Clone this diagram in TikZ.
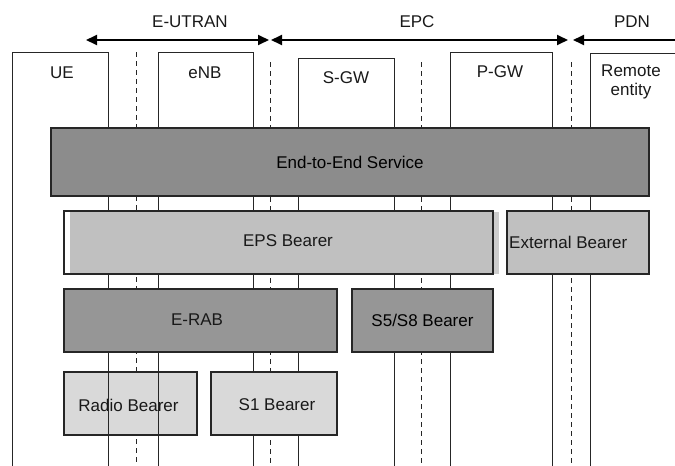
\documentclass[tikz,border=0pt]{standalone}
\usepackage{fontspec}
\setmainfont{Liberation Sans}
\usetikzlibrary{arrows.meta}
\definecolor{darkfill}{RGB}{140,140,140}
\definecolor{midfill}{RGB}{150,150,150}
\definecolor{lightfill}{RGB}{192,192,192}
\definecolor{palefill}{RGB}{217,217,217}
\definecolor{shadowfill}{RGB}{205,205,205}
\definecolor{edge}{RGB}{38,38,38}
\begin{document}
\begin{tikzpicture}[x=1pt,y=-1pt,
  col/.style={draw=edge, line width=1pt},
  sep/.style={draw=edge, line width=1pt, dash pattern=on 5pt off 4pt},
  bbox/.style={draw=edge, line width=1.3pt, inner sep=0pt, font=\fontsize{17}{20}\selectfont},
  lbl/.style={font=\fontsize{17}{20}\selectfont, inner sep=0pt, text=black!90},
  dom/.style={line width=1.8pt},
  tip/.tip={Triangle[length=11pt,width=10pt]}]
\useasboundingbox (0,0) rectangle (675,466);

% separator lines
\draw[sep] (136,52) -- (136,466);
\draw[sep] (270,62) -- (270,466);
\draw[sep] (421,62) -- (421,466);
\draw[sep] (571,62) -- (571,466);

% column boxes (open at the bottom)
\draw[col] (12,466) -- (12,52) -- (108,52) -- (108,466);
\draw[col] (158,466) -- (158,52) -- (253,52) -- (253,466);
\draw[col] (298,466) -- (298,58) -- (394,58) -- (394,466);
\draw[col] (450,466) -- (450,52) -- (552,52) -- (552,466);
\draw[col] (590,466) -- (590,53) -- (676,53);

% column labels
\node[lbl] (ue) at (62,73) {UE};
\node[lbl] (enb) at (205,73) {eNB};
\node[lbl] (sgw) at (346,78) {S-GW};
\node[lbl] (pgw) at (500,72) {P-GW};
\node[lbl, align=center] (remote) at (631,82) {Remote\\[-1pt]entity};

% domain arrows
\coordinate (eul) at (86,40);
\coordinate (eur) at (269,40);
\coordinate (epcl) at (271,40);
\coordinate (epcr) at (568,40);
\coordinate (pdnl) at (573,40);
\coordinate (pdnr) at (680,40);
\draw[dom, tip-tip] (eul) -- (eur);
\draw[dom, tip-tip] (epcl) -- (epcr);
\draw[dom, tip-] (pdnl) -- (pdnr);
\node[lbl] (eutran) at (190,22) {E-UTRAN};
\node[lbl] (epc) at (417,22) {EPC};
\node[lbl] (pdn) at (632,22) {PDN};

% bearer boxes
\node[bbox, fill=darkfill, minimum width=598pt, minimum height=68pt] (e2e) at (350,162) {End-to-End Service};

\fill[shadowfill] (493,212) rectangle (499,274);
\node[bbox, fill=lightfill, minimum width=429pt, minimum height=63pt] (eps) at (278.5,242.5) {};
\fill[white] (65.3,212.3) rectangle (70,273.2);
\node[lbl] (epst) at (288,241) {EPS Bearer};

\node[bbox, fill=lightfill, minimum width=142pt, minimum height=63pt] (ext) at (578,242.5) {};
\node[lbl, anchor=west] (extt) at (509,242) {External Bearer};

\node[bbox, fill=midfill, minimum width=273pt, minimum height=63pt] (erab) at (200.5,320.5) {};
\node[lbl] (erabt) at (197,320) {E-RAB};
\node[bbox, fill=midfill, minimum width=141pt, minimum height=63pt] (s5) at (422.5,320.5) {S5/S8 Bearer};

\node[bbox, fill=palefill, minimum width=133pt, minimum height=63pt] (radio) at (130.5,403.5) {};
\node[lbl] (radiot) at (128.5,405) {Radio Bearer};
\node[bbox, fill=palefill, minimum width=126pt, minimum height=63pt] (s1) at (274,403.5) {};
\node[lbl] (s1t) at (277,405) {S1 Bearer};

% column edges visible through the radio bearer box
\draw[col] (radio.north -| 108,0) -- (radio.south -| 108,0);
\draw[col] (radio.north -| 158,0) -- (radio.south -| 158,0);
\end{tikzpicture}
\end{document}
